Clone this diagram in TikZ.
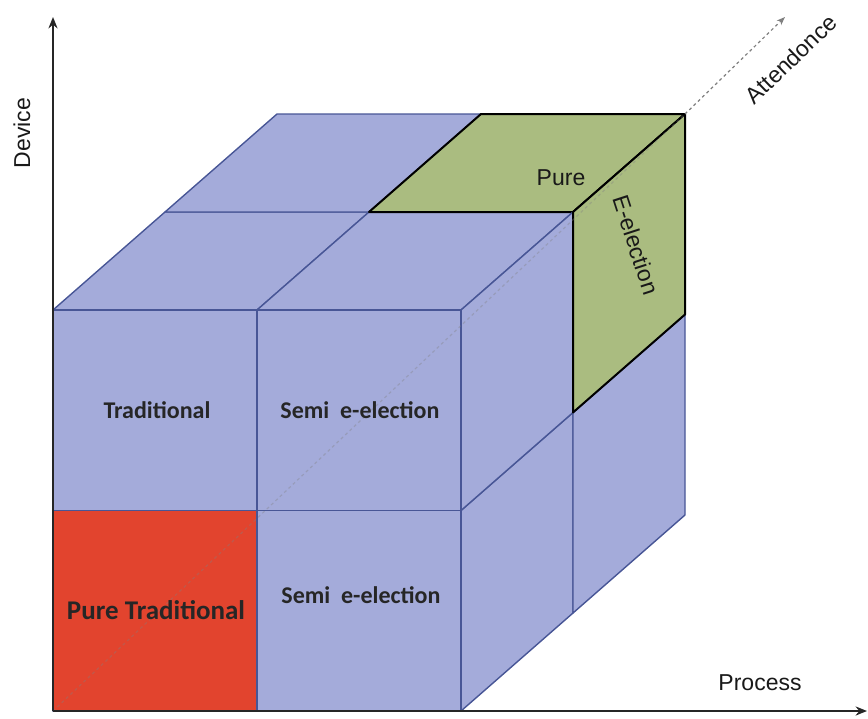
\documentclass[tikz,border=0pt]{standalone}
\usepackage{fontspec}
\setmainfont{Liberation Sans}
\newfontfamily\calfont{Carlito}
\usetikzlibrary{arrows.meta,calc}
\definecolor{cubeblue}{RGB}{164,171,218}
\definecolor{edgeblue}{RGB}{72,86,150}
\definecolor{tradred}{RGB}{226,68,46}
\definecolor{pureg}{RGB}{170,188,128}
\tikzset{
  cell/.style={fill=cubeblue,draw=edgeblue,line width=1.4pt,line join=round},
  redcell/.style={cell,fill=tradred},
  greencell/.style={fill=pureg,draw=black,line width=2pt,line join=round},
  axis/.style={-{Stealth[length=4mm,width=3.2mm]},line width=2.2pt,black!85},
  hidden/.style={dashed,gray,line width=1.2pt},
  lbl/.style={font=\calfont\bfseries\fontsize{24}{28}\selectfont,text=black!85},
  biglbl/.style={lbl,font=\calfont\bfseries\fontsize{27}{32}\selectfont},
  axlbl/.style={font=\fontsize{23}{27}\selectfont,text=black!90}
}

\begin{document}
\begin{tikzpicture}[x=1pt,y=-1pt]
\useasboundingbox (0,0) rectangle (868,718);
\coordinate (O) at (53,711);
\coordinate (yend) at (53,17);
\coordinate (xend) at (867,711);
\coordinate (zend) at (785,17);
\foreach \i in {0,1,2}{\foreach \j in {0,1,2}{\foreach \k in {0,1,2}{
  \coordinate (p\i\j\k) at ({53+204*\i+112*\k},{711-200.5*\j-98*\k});}}}
\filldraw[cell] (p020) -- (p120) -- (p121) -- (p021) -- cycle;
\filldraw[cell] (p120) -- (p220) -- (p221) -- (p121) -- cycle;
\filldraw[cell] (p021) -- (p121) -- (p122) -- (p022) -- cycle;
\filldraw[greencell] (p121) -- (p221) -- (p222) -- (p122) -- cycle;
\filldraw[cell] (p200) -- (p210) -- (p211) -- (p201) -- cycle;
\filldraw[cell] (p201) -- (p211) -- (p212) -- (p202) -- cycle;
\filldraw[cell] (p210) -- (p220) -- (p221) -- (p211) -- cycle;
\filldraw[greencell] (p211) -- (p221) -- (p222) -- (p212) -- cycle;
\filldraw[redcell] (p000) -- (p100) -- (p110) -- (p010) -- cycle;
\filldraw[cell] (p100) -- (p200) -- (p210) -- (p110) -- cycle;
\filldraw[cell] (p010) -- (p110) -- (p120) -- (p020) -- cycle;
\filldraw[cell] (p110) -- (p210) -- (p220) -- (p120) -- cycle;
\draw[hidden,opacity=.35] (O) -- (p222);
\draw[hidden,-{Stealth[length=3mm]}] (p222) -- (zend);
\draw[axis] (O) -- (yend);
\draw[axis] (O) -- (xend);
\node[axlbl,rotate=90] (device) at (22,133) {Device};
\node[axlbl] (process) at (760,683) {Process};
\node[axlbl,rotate=44] (attend) at (791,59) {Attendonce};
\node[axlbl] (pure) at (561,178) {Pure};
\node[axlbl,rotate=-72] (eelect) at (636,245) {E-election};
\node[lbl] (trad) at (157,410) {Traditional};
\node[lbl] (semiup) at (360,410) {Semi\ \ e-election};
\node[biglbl] (puretrad) at (156,610) {Pure Traditional};
\node[lbl] (semilow) at (361,595) {Semi\ \ e-election};
\end{tikzpicture}
\end{document}
